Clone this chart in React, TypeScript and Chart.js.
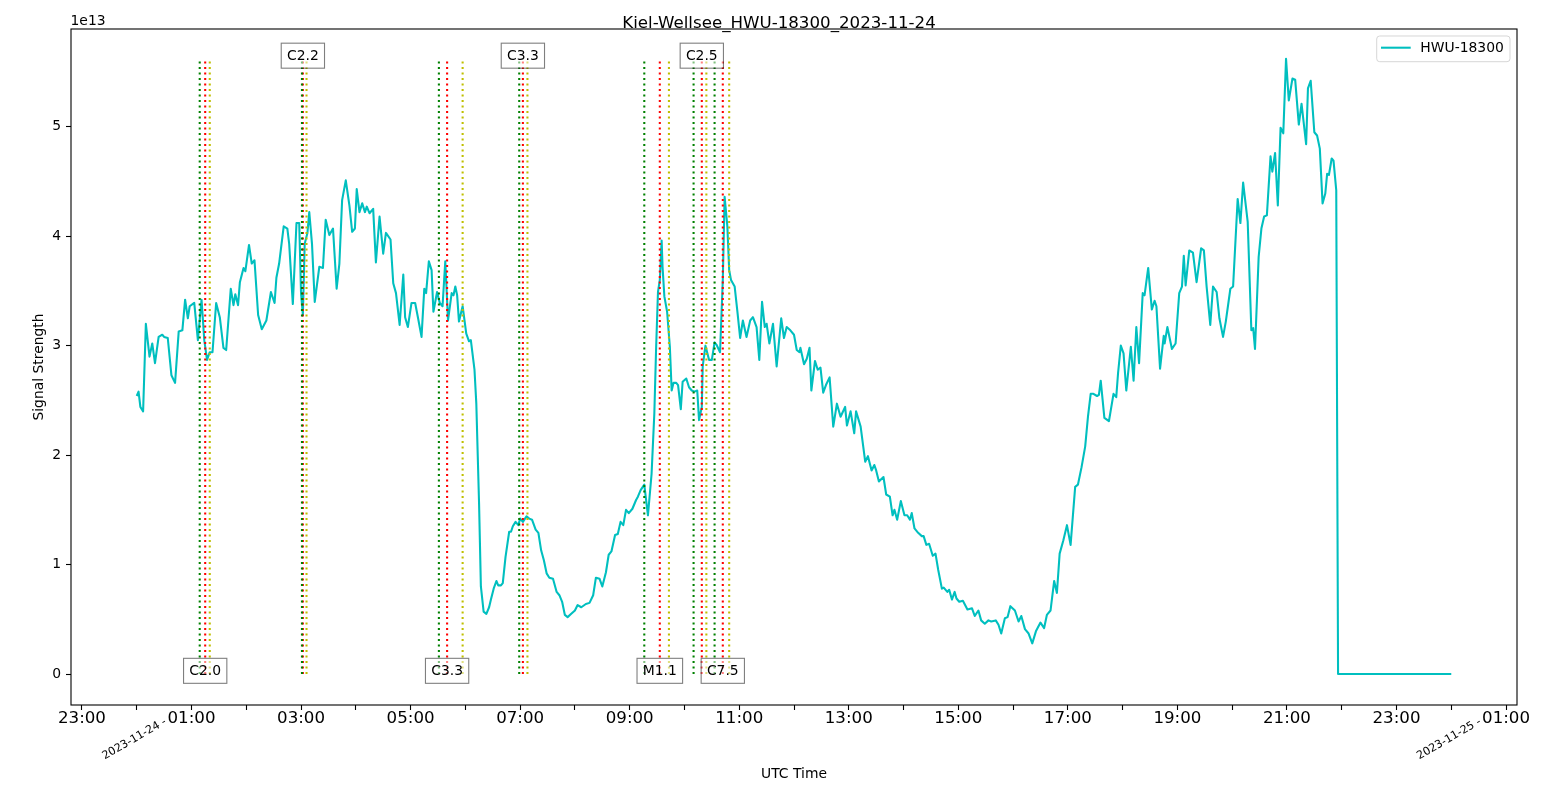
import React, { useEffect, useRef } from 'react';
import { Chart, registerables } from 'chart.js';

Chart.register(...registerables);

const FONT = '"DejaVu Sans", sans-serif';

const TITLE = 'Kiel-Wellsee_HWU-18300_2023-11-24';
const SERIES_NAME = 'HWU-18300';
const X_LABEL = 'UTC Time';
const Y_LABEL = 'Signal Strength';
const Y_OFFSET_LABEL = '1e13';

// minutes since 2023-11-24 00:00 UTC
const TIME_MIN: number[] = [
  0, 2, 4, 7, 10, 14, 17, 20, 24, 28,
  30, 34, 38, 42, 46, 50, 53, 56, 58, 63,
  67, 71, 74, 77, 80, 83, 87, 91, 95, 98,
  103, 106, 108, 111, 113, 117, 119, 123, 126, 129,
  133, 137, 142, 147, 151, 153, 156, 161, 165, 167,
  171, 175, 178, 180, 182, 184, 187, 189, 192, 195,
  200, 204, 207, 211, 215, 219, 222, 225, 229, 233,
  236, 239, 241, 244, 247, 250, 252, 255, 259, 262,
  266, 270, 273, 278, 281, 284, 288, 292, 294, 297,
  301, 305, 308, 312, 315, 317, 320, 323, 325, 329,
  332, 335, 338, 341, 345, 347, 349, 351, 353, 357,
  361, 364, 366, 370, 372, 375, 377, 380, 383, 386,
  388, 391, 394, 396, 399, 401, 404, 408, 410, 412,
  415, 418, 420, 423, 427, 430, 433, 437, 440, 443,
  446, 449, 452, 456, 460, 463, 466, 469, 472, 476,
  480, 483, 487, 492, 496, 500, 503, 507, 510, 514,
  517, 520, 524, 527, 530, 533, 536, 539, 543, 547,
  549, 552, 556, 560, 564, 567, 569, 571, 573, 575,
  576, 578, 581, 584, 586, 588, 591, 593, 596, 598,
  602, 605, 608, 611, 614, 616, 619, 620, 623, 627,
  630, 633, 635, 639, 642, 644, 647, 649, 651, 655,
  658, 661, 664, 668, 672, 675, 679, 682, 685, 688,
  690, 693, 697, 701, 706, 709, 712, 716, 720, 723,
  726, 727, 731, 734, 737, 739, 743, 746, 749, 752,
  755, 759, 763, 767, 771, 776, 778, 782, 786, 788,
  793, 798, 801, 805, 808, 810, 813, 818, 821, 825,
  828, 830, 833, 837, 841, 844, 847, 849, 852, 856,
  860, 862, 865, 868, 872, 875, 878, 882, 884, 888,
  890, 893, 896, 898, 901, 905, 910, 915, 918, 922,
  925, 929, 933, 936, 941, 944, 947, 951, 954, 957,
  962, 966, 969, 973, 977, 981, 985, 990, 994, 997,
  1001, 1005, 1008, 1011, 1015, 1019, 1023, 1028, 1031, 1035,
  1039, 1042, 1045, 1048, 1052, 1054, 1056, 1060, 1065, 1070,
  1073, 1075, 1078, 1081, 1084, 1089, 1092, 1095, 1098, 1102,
  1104, 1108, 1112, 1115, 1117, 1121, 1125, 1126, 1129, 1134,
  1138, 1142, 1145, 1147, 1149, 1153, 1157, 1161, 1166, 1169,
  1172, 1176, 1179, 1183, 1186, 1190, 1193, 1198, 1201, 1206,
  1209, 1212, 1217, 1221, 1223, 1225, 1229, 1232, 1235, 1238,
  1242, 1244, 1247, 1250, 1253, 1256, 1259, 1262, 1266, 1269,
  1273, 1276, 1281, 1283, 1286, 1290, 1293, 1296, 1299, 1302,
  1304, 1306, 1309, 1311, 1314, 1316, 1440,
];

// signal strength in units of 1e13
const SIGNAL_E13: number[] = [
  2.54, 2.58, 2.44, 2.40, 3.20, 2.90, 3.02, 2.84, 3.08, 3.10,
  3.08, 3.07, 2.73, 2.66, 3.13, 3.14, 3.42, 3.25, 3.36, 3.39,
  3.05, 3.42, 3.05, 2.87, 2.94, 2.94, 3.39, 3.26, 2.98, 2.96,
  3.52, 3.37, 3.47, 3.37, 3.58, 3.71, 3.68, 3.92, 3.75, 3.78,
  3.28, 3.15, 3.23, 3.49, 3.39, 3.62, 3.75, 4.09, 4.07, 3.93,
  3.38, 4.12, 4.12, 3.48, 3.28, 3.93, 4.03, 4.22, 3.93, 3.40,
  3.72, 3.71, 4.15, 4.01, 4.07, 3.52, 3.75, 4.33, 4.51, 4.28,
  4.04, 4.07, 4.43, 4.22, 4.30, 4.22, 4.27, 4.21, 4.25, 3.76,
  4.18, 3.84, 4.03, 3.97, 3.57, 3.48, 3.19, 3.65, 3.26, 3.17,
  3.39, 3.39, 3.26, 3.08, 3.52, 3.48, 3.77, 3.69, 3.31, 3.49,
  3.39, 3.36, 3.77, 3.23, 3.48, 3.46, 3.54, 3.46, 3.22, 3.36,
  3.11, 3.04, 3.05, 2.78, 2.47, 1.56, 0.80, 0.57, 0.55, 0.61,
  0.68, 0.78, 0.85, 0.81, 0.81, 0.83, 1.07, 1.30, 1.30, 1.35,
  1.39, 1.36, 1.42, 1.39, 1.44, 1.42, 1.41, 1.32, 1.29, 1.13,
  1.04, 0.92, 0.88, 0.87, 0.75, 0.72, 0.66, 0.54, 0.52, 0.55,
  0.58, 0.63, 0.61, 0.64, 0.65, 0.72, 0.88, 0.87, 0.80, 0.93,
  1.09, 1.12, 1.27, 1.28, 1.39, 1.36, 1.50, 1.47, 1.51, 1.59,
  1.62, 1.68, 1.73, 1.45, 1.83, 2.38, 2.99, 3.49, 3.60, 3.96,
  3.72, 3.45, 3.31, 2.99, 2.59, 2.66, 2.66, 2.64, 2.42, 2.67,
  2.70, 2.62, 2.59, 2.58, 2.59, 2.32, 2.44, 2.81, 3.00, 2.87,
  2.87, 3.03, 3.01, 2.94, 3.60, 4.36, 4.09, 3.69, 3.60, 3.54,
  3.31, 3.07, 3.23, 3.08, 3.23, 3.26, 3.17, 2.87, 3.40, 3.17,
  3.20, 3.02, 3.20, 2.81, 3.25, 3.07, 3.17, 3.14, 3.10, 2.96,
  2.94, 2.98, 2.83, 2.88, 2.98, 2.59, 2.86, 2.78, 2.80, 2.57,
  2.64, 2.71, 2.26, 2.47, 2.35, 2.44, 2.27, 2.40, 2.20, 2.40,
  2.26, 1.94, 1.99, 1.86, 1.91, 1.86, 1.76, 1.80, 1.64, 1.62,
  1.45, 1.50, 1.41, 1.58, 1.45, 1.45, 1.41, 1.47, 1.33, 1.29,
  1.26, 1.26, 1.18, 1.19, 1.08, 1.10, 0.95, 0.78, 0.79, 0.75,
  0.77, 0.68, 0.75, 0.69, 0.66, 0.67, 0.59, 0.60, 0.53, 0.58,
  0.49, 0.46, 0.49, 0.48, 0.49, 0.45, 0.37, 0.51, 0.52, 0.62,
  0.58, 0.48, 0.53, 0.41, 0.37, 0.28, 0.39, 0.47, 0.42, 0.54,
  0.58, 0.85, 0.74, 1.10, 1.22, 1.36, 1.18, 1.71, 1.73, 1.89,
  2.08, 2.35, 2.56, 2.56, 2.54, 2.55, 2.68, 2.34, 2.31, 2.56,
  2.53, 2.75, 3.00, 2.93, 2.59, 2.99, 2.68, 3.17, 2.84, 3.48,
  3.46, 3.71, 3.33, 3.41, 3.36, 2.79, 3.09, 3.02, 3.17, 2.97,
  3.02, 3.48, 3.54, 3.82, 3.55, 3.87, 3.85, 3.58, 3.89, 3.87,
  3.54, 3.19, 3.54, 3.49, 3.25, 3.08, 3.22, 3.52, 3.54, 4.34,
  4.12, 4.49, 4.13, 3.14, 3.16, 2.97, 3.81, 4.07, 4.18, 4.19,
  4.73, 4.59, 4.76, 4.28, 4.99, 4.94, 5.62, 5.24, 5.44, 5.43,
  5.02, 5.21, 4.84, 5.35, 5.42, 4.95, 4.92, 4.80, 4.30, 4.39,
  4.57, 4.56, 4.71, 4.69, 4.42, 0, 0,
];

// solar flares (minutes since 2023-11-24 00:00 UTC)
const FLARE_CLASS = ['C2.0', 'C2.2', 'C3.3', 'C3.3', 'M1.1', 'C2.5', 'C7.5'];
const FLARE_START = [69, 181, 331, 419, 556, 610, 633];
const FLARE_PEAK = [75, 182, 340, 423, 573, 619, 642];
const FLARE_END = [80, 186, 357, 428, 583, 624, 649];

const X_TICK_MIN = [
  -60, 0, 60, 120, 180, 240, 300, 360, 420, 480, 540, 600, 660, 720,
  780, 840, 900, 960, 1020, 1080, 1140, 1200, 1260, 1320, 1380, 1440, 1500,
];
const X_TICK_LABELS = [
  '23:00', '', '01:00', '', '03:00', '', '05:00', '', '07:00', '', '09:00', '', '11:00', '',
  '13:00', '', '15:00', '', '17:00', '', '19:00', '', '21:00', '', '23:00', '', '01:00',
];
const DATE_TICK_MIN = [0, 1440];
const DATE_TICK_LABELS = ['2023-11-24 -', '2023-11-25 -'];
const Y_TICKS = [0, 1, 2, 3, 4, 5];

const X_MIN = -72;
const X_MAX = 1512;
const Y_MIN = -0.283;
const Y_MAX = 5.893;

const LINE_COLOR = '#00bfbf';
const START_COLOR = '#008000';
const PEAK_COLOR = '#ff0000';
const END_COLOR = '#bfbf00';

function roundRect(ctx: CanvasRenderingContext2D, x: number, y: number, w: number, h: number, r: number) {
  ctx.beginPath();
  ctx.moveTo(x + r, y);
  ctx.lineTo(x + w - r, y);
  ctx.arcTo(x + w, y, x + w, y + r, r);
  ctx.lineTo(x + w, y + h - r);
  ctx.arcTo(x + w, y + h, x + w - r, y + h, r);
  ctx.lineTo(x + r, y + h);
  ctx.arcTo(x, y + h, x, y + h - r, r);
  ctx.lineTo(x, y + r);
  ctx.arcTo(x, y, x + r, y, r);
  ctx.closePath();
}

const overlayPlugin = {
  id: 'overlay',
  afterDraw(chart: any) {
    const ctx: CanvasRenderingContext2D = chart.ctx;
    const a = chart.chartArea;
    const xs = chart.scales.x;
    const ys = chart.scales.y;
    const peak = Math.max(...SIGNAL_E13);
    ctx.save();

    // flare labels
    ctx.font = `13.9px ${FONT}`;
    FLARE_CLASS.forEach((label, i) => {
      const cx = xs.getPixelForValue(FLARE_PEAK[i]);
      const base = ys.getPixelForValue(i % 2 === 0 ? 0 : peak) + 1;
      const w = ctx.measureText(label).width + 11.5;
      const top = base - 16.7;
      const h = 25;
      ctx.globalAlpha = 0.5;
      ctx.fillStyle = '#ffffff';
      ctx.fillRect(cx - w / 2, top, w, h);
      ctx.strokeStyle = '#000000';
      ctx.lineWidth = 1.1;
      ctx.strokeRect(cx - w / 2, top, w, h);
      ctx.globalAlpha = 1;
      ctx.fillStyle = '#000000';
      ctx.textAlign = 'center';
      ctx.textBaseline = 'alphabetic';
      ctx.fillText(label, cx, base);
    });

    // frame
    ctx.strokeStyle = '#000000';
    ctx.lineWidth = 1.1;
    ctx.strokeRect(a.left, a.top, a.right - a.left, a.bottom - a.top);

    // title
    ctx.fillStyle = '#000000';
    ctx.font = `16.67px ${FONT}`;
    ctx.textAlign = 'center';
    ctx.textBaseline = 'alphabetic';
    ctx.fillText(TITLE, chart.width / 2, 27.5);

    // offset label
    ctx.font = `13.9px ${FONT}`;
    ctx.textAlign = 'left';
    ctx.fillText(Y_OFFSET_LABEL, a.left - 0.5, a.top - 4);

    // axis titles
    ctx.textAlign = 'center';
    ctx.fillText(X_LABEL, (a.left + a.right) / 2, 777.5);
    ctx.save();
    ctx.translate(43.4, (a.top + a.bottom) / 2);
    ctx.rotate(-Math.PI / 2);
    ctx.fillText(Y_LABEL, 0, 0);
    ctx.restore();

    // date labels at midnight
    ctx.font = `11.1px ${FONT}`;
    ctx.fillStyle = '#000000';
    DATE_TICK_MIN.forEach((m, i) => {
      const px = xs.getPixelForValue(m);
      ctx.save();
      ctx.translate(px - 32, 759.5);
      ctx.rotate(-Math.PI / 6);
      ctx.textAlign = 'left';
      ctx.textBaseline = 'alphabetic';
      ctx.fillText(DATE_TICK_LABELS[i], 0, 0);
      ctx.restore();
    });

    // legend
    const lx = a.right - 140.3;
    const ly = a.top + 7;
    roundRect(ctx, lx, ly, 133.3, 25.7, 3);
    ctx.globalAlpha = 0.8;
    ctx.fillStyle = '#ffffff';
    ctx.fill();
    ctx.strokeStyle = '#cccccc';
    ctx.lineWidth = 1;
    ctx.stroke();
    ctx.globalAlpha = 1;
    ctx.beginPath();
    ctx.moveTo(lx + 4.3, ly + 11.7);
    ctx.lineTo(lx + 34, ly + 11.7);
    ctx.strokeStyle = LINE_COLOR;
    ctx.lineWidth = 2.08;
    ctx.stroke();
    ctx.fillStyle = '#000000';
    ctx.font = `13.9px ${FONT}`;
    ctx.textAlign = 'left';
    ctx.fillText(SERIES_NAME, lx + 43.6, ly + 16.3);

    ctx.restore();
  },
};

export default function App() {
  const ref = useRef<HTMLCanvasElement>(null);

  useEffect(() => {
    const canvas = ref.current;
    if (!canvas) return;
    Chart.defaults.font.family = FONT;
    Chart.defaults.color = '#000000';

    const n = Math.min(TIME_MIN.length, SIGNAL_E13.length);
    const points = [] as { x: number; y: number }[];
    for (let i = 0; i < n; i++) points.push({ x: TIME_MIN[i], y: SIGNAL_E13[i] });
    const peak = Math.max(...SIGNAL_E13);

    const flareSets: any[] = [];
    FLARE_CLASS.forEach((_, i) => {
      const trio: [number[], string][] = [
        [FLARE_START, START_COLOR],
        [FLARE_PEAK, PEAK_COLOR],
        [FLARE_END, END_COLOR],
      ];
      trio.forEach(([arr, col]) => {
        flareSets.push({
          data: [
            { x: arr[i], y: 0 },
            { x: arr[i], y: peak },
          ],
          borderColor: col,
          borderWidth: 2.08,
          borderDash: [2.1, 3.4],
          borderCapStyle: 'butt',
          pointRadius: 0,
          fill: false,
          order: 0,
        });
      });
    });

    const chart = new Chart(canvas, {
      type: 'line',
      data: {
        datasets: [
          {
            label: SERIES_NAME,
            data: points,
            borderColor: LINE_COLOR,
            borderWidth: 2.08,
            borderJoinStyle: 'round',
            pointRadius: 0,
            fill: false,
            tension: 0,
            order: 1,
          } as any,
          ...flareSets,
        ],
      },
      options: {
        animation: false,
        responsive: false,
        maintainAspectRatio: false,
        events: [],
        layout: { padding: { top: 29, right: 41, left: 0, bottom: 0 } },
        plugins: {
          legend: { display: false },
          tooltip: { enabled: false },
          title: { display: false },
        },
        scales: {
          x: {
            type: 'linear',
            min: X_MIN,
            max: X_MAX,
            afterBuildTicks: (scale: any) => {
              scale.ticks = X_TICK_MIN.map((v) => ({ value: v }));
            },
            afterFit: (scale: any) => {
              scale.height = 87;
            },
            grid: {
              display: true,
              drawOnChartArea: false,
              drawTicks: true,
              tickLength: 5,
              tickColor: '#000000',
              tickWidth: 1.1,
            },
            border: { display: false },
            ticks: {
              autoSkip: false,
              maxRotation: 0,
              minRotation: 0,
              padding: 0,
              color: '#000000',
              font: { size: 16.67, family: FONT, lineHeight: 1 },
              callback: (_v: any, index: number) => X_TICK_LABELS[index] ?? '',
            },
          },
          y: {
            type: 'linear',
            min: Y_MIN,
            max: Y_MAX,
            afterBuildTicks: (scale: any) => {
              scale.ticks = Y_TICKS.map((v) => ({ value: v }));
            },
            afterFit: (scale: any) => {
              scale.width = 71;
            },
            grid: {
              display: true,
              drawOnChartArea: false,
              drawTicks: true,
              tickLength: 5,
              tickColor: '#000000',
              tickWidth: 1.1,
            },
            border: { display: false },
            ticks: {
              padding: 5,
              color: '#000000',
              font: { size: 13.9, family: FONT },
              callback: (v: any) => String(v),
            },
          },
        },
      } as any,
      plugins: [overlayPlugin],
    });

    return () => {
      chart.destroy();
    };
  }, []);

  return (
    <div style={{ position: 'absolute', left: 0, top: 0, width: 1558, height: 792, background: '#ffffff' }}>
      <canvas ref={ref} width={1558} height={792} style={{ display: 'block', width: 1558, height: 792 }} />
    </div>
  );
}
